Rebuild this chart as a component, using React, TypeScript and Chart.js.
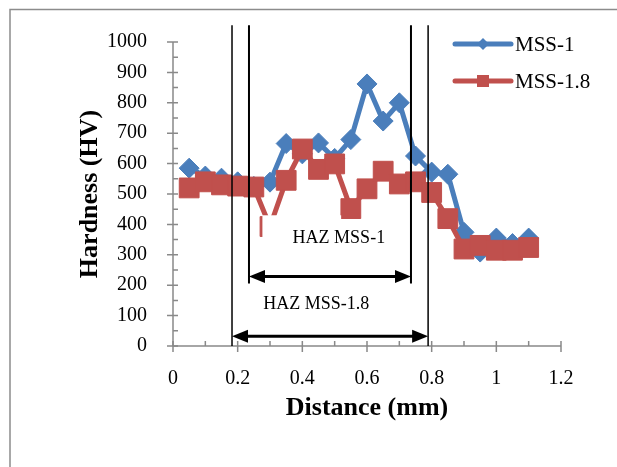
import React, { useEffect, useRef } from "react";
import { Chart, registerables } from "chart.js";

Chart.register(...registerables);

// ---- data ----
const distance = [0.05, 0.1, 0.15, 0.2, 0.25, 0.3, 0.35, 0.4, 0.45, 0.5, 0.55, 0.6, 0.65, 0.7, 0.75, 0.8, 0.85, 0.9, 0.95, 1.0, 1.05, 1.1];
const mss1 = [585, 559, 552, 540, 525, 539, 666, 632, 668, 617, 679, 862, 740, 800, 625, 572, 565, 374, 309, 355, 337, 355];
const mss18 = [520, 540, 530, 526, 523, 393, 545, 648, 581, 599, 452, 517, 575, 533, 540, 505, 419, 319, 331, 315, 315, 324];
const seriesNames = ["MSS-1", "MSS-1.8"];
const xTickValues = [0, 0.2, 0.4, 0.6, 0.8, 1, 1.2];
const yTickValues = [0, 100, 200, 300, 400, 500, 600, 700, 800, 900, 1000];
const xTitle = "Distance (mm)";
const yTitle = "Hardness (HV)";

// HAZ annotations (data units)
const hazInner = { from: 0.235, to: 0.736, label: "HAZ MSS-1", labelX: 0.513, labelY: 354, arrowY: 229, bottom: 206 };
const hazOuter = { from: 0.1825, to: 0.789, label: "HAZ MSS-1.8", labelX: 0.443, labelY: 137, arrowY: 32, bottom: 0 };
const hazTop = 1055;
const labelMask = { x0: 0.2765, x1: 0.52, y0: 430, y1: 275 };

const BLUE = "#4A7EBB";
const RED = "#C0504D";
const AXIS = "#898989";
const SERIF = "'Liberation Serif', 'Times New Roman', serif";

function drawArrow(ctx: CanvasRenderingContext2D, x1: number, x2: number, y: number) {
  const head = 16;
  const hw = 6.5;
  ctx.save();
  ctx.strokeStyle = "#000";
  ctx.fillStyle = "#000";
  ctx.lineWidth = 3;
  ctx.beginPath();
  ctx.moveTo(x1 + head - 2, y);
  ctx.lineTo(x2 - head + 2, y);
  ctx.stroke();
  ctx.beginPath();
  ctx.moveTo(x1, y);
  ctx.lineTo(x1 + head, y - hw);
  ctx.lineTo(x1 + head, y + hw);
  ctx.closePath();
  ctx.fill();
  ctx.beginPath();
  ctx.moveTo(x2, y);
  ctx.lineTo(x2 - head, y - hw);
  ctx.lineTo(x2 - head, y + hw);
  ctx.closePath();
  ctx.fill();
  ctx.restore();
}

const overlayPlugin = {
  id: "overlay",
  beforeDatasetsDraw(chart: any) {
    const ctx: CanvasRenderingContext2D = chart.ctx;
    const xs = chart.scales.x;
    const ys = chart.scales.y;
    const { left, right, top, bottom } = chart.chartArea;
    ctx.save();
    ctx.strokeStyle = AXIS;
    ctx.lineWidth = 1.5;
    // axis lines
    ctx.beginPath();
    ctx.moveTo(left, top);
    ctx.lineTo(left, bottom);
    ctx.moveTo(left, bottom);
    ctx.lineTo(right, bottom);
    ctx.stroke();
    // y ticks
    ctx.beginPath();
    for (let v = 0; v <= 1000; v += 50) {
      const y = ys.getPixelForValue(v);
      if (v % 100 === 0) {
        ctx.moveTo(left - 6, y);
        ctx.lineTo(left + 5, y);
      } else {
        ctx.moveTo(left, y);
        ctx.lineTo(left + 5, y);
      }
    }
    // x ticks
    for (let i = 0; i <= 12; i++) {
      const x = xs.getPixelForValue(i / 10);
      if (i % 2 === 0) {
        ctx.moveTo(x, bottom - 5);
        ctx.lineTo(x, bottom + 6);
      } else {
        ctx.moveTo(x, bottom - 5);
        ctx.lineTo(x, bottom);
      }
    }
    ctx.stroke();
    ctx.restore();
  },
  afterDatasetsDraw(chart: any) {
    const ctx: CanvasRenderingContext2D = chart.ctx;
    const xs = chart.scales.x;
    const ys = chart.scales.y;
    ctx.save();
    // white label box
    const mx0 = xs.getPixelForValue(labelMask.x0);
    const mx1 = xs.getPixelForValue(labelMask.x1);
    const my0 = ys.getPixelForValue(labelMask.y0);
    const my1 = ys.getPixelForValue(labelMask.y1);
    ctx.fillStyle = "#fff";
    ctx.fillRect(mx0, my0, mx1 - mx0, my1 - my0);

    const yTop = ys.getPixelForValue(hazTop);
    // vertical lines
    ctx.strokeStyle = "#000";
    for (const h of [hazOuter, hazInner]) {
      ctx.lineWidth = h === hazOuter ? 1.5 : 2;
      const yb = ys.getPixelForValue(h.bottom);
      for (const xv of [h.from, h.to]) {
        const x = xs.getPixelForValue(xv);
        ctx.beginPath();
        ctx.moveTo(x, yTop);
        ctx.lineTo(x, yb);
        ctx.stroke();
      }
      drawArrow(ctx, xs.getPixelForValue(h.from), xs.getPixelForValue(h.to), ys.getPixelForValue(h.arrowY));
      ctx.fillStyle = "#000";
      ctx.font = `18px ${SERIF}`;
      ctx.textAlign = "center";
      ctx.textBaseline = "middle";
      ctx.fillText(h.label, xs.getPixelForValue(h.labelX), ys.getPixelForValue(h.labelY));
    }
    ctx.restore();
  },
  afterDraw(chart: any) {
    const ctx: CanvasRenderingContext2D = chart.ctx;
    const { left, right } = chart.chartArea;
    ctx.save();
    // frame
    ctx.strokeStyle = "#8c8c8c";
    ctx.lineWidth = 1.5;
    ctx.beginPath();
    ctx.moveTo(10, 470);
    ctx.lineTo(10, 9.5);
    ctx.lineTo(620, 9.5);
    ctx.stroke();

    // axis titles
    ctx.fillStyle = "#000";
    ctx.font = `bold 26px ${SERIF}`;
    ctx.textAlign = "center";
    ctx.textBaseline = "alphabetic";
    ctx.fillText(xTitle, (left + right) / 2, 415);
    ctx.save();
    ctx.translate(90.5, 194);
    ctx.rotate(-Math.PI / 2);
    ctx.textBaseline = "middle";
    ctx.fillText(yTitle, 0, 0);
    ctx.restore();

    // legend
    const lx0 = 455, lx1 = 511, lmid = 483;
    const rows = [
      { y: 44, color: BLUE, name: seriesNames[0], kind: "diamond" },
      { y: 81, color: RED, name: seriesNames[1], kind: "square" },
    ];
    for (const r of rows) {
      ctx.strokeStyle = r.color;
      ctx.fillStyle = r.color;
      ctx.lineWidth = 5;
      ctx.lineCap = "round";
      ctx.beginPath();
      ctx.moveTo(lx0, r.y);
      ctx.lineTo(lx1, r.y);
      ctx.stroke();
      ctx.beginPath();
      if (r.kind === "diamond") {
        const s = 6;
        ctx.moveTo(lmid - s, r.y);
        ctx.lineTo(lmid, r.y - s);
        ctx.lineTo(lmid + s, r.y);
        ctx.lineTo(lmid, r.y + s);
        ctx.closePath();
        ctx.fill();
      } else {
        ctx.fillRect(lmid - 6, r.y - 6, 12, 12);
      }
      ctx.fillStyle = "#000";
      ctx.font = `21px ${SERIF}`;
      ctx.textAlign = "left";
      ctx.textBaseline = "middle";
      ctx.fillText(r.name, 515, r.y + 1);
    }
    ctx.restore();
  },
};

export default function App() {
  const canvasRef = useRef<HTMLCanvasElement | null>(null);

  useEffect(() => {
    const canvas = canvasRef.current;
    if (!canvas) return;
    const chart = new Chart(canvas, {
      type: "line",
      data: {
        datasets: [
          {
            label: seriesNames[1],
            data: distance.map((d, i) => ({ x: d, y: mss18[i] })),
            borderColor: RED,
            backgroundColor: RED,
            borderWidth: 5,
            pointStyle: "rect",
            pointRadius: 14,
            pointBorderWidth: 1,
            pointBorderColor: RED,
            pointBackgroundColor: RED,
            order: 0,
          },
          {
            label: seriesNames[0],
            data: distance.map((d, i) => ({ x: d, y: mss1[i] })),
            borderColor: BLUE,
            backgroundColor: BLUE,
            borderWidth: 5,
            pointStyle: "rectRot",
            pointRadius: 10,
            pointBorderWidth: 1,
            pointBorderColor: BLUE,
            pointBackgroundColor: BLUE,
            order: 1,
          },
        ],
      },
      options: {
        animation: false,
        responsive: false,
        devicePixelRatio: 1,
        events: [],
        layout: { padding: { left: 0, right: 56, top: 42, bottom: 0 } },
        elements: {
          line: { tension: 0, borderJoinStyle: "round", borderCapStyle: "round" },
        },
        plugins: {
          legend: { display: false },
          tooltip: { enabled: false },
          title: { display: false },
        },
        scales: {
          x: {
            type: "linear",
            min: 0,
            max: 1.2,
            afterBuildTicks: (scale: any) => {
              scale.ticks = xTickValues.map((v) => ({ value: v }));
            },
            afterFit: (scale: any) => {
              scale.height = 121;
            },
            grid: { display: false },
            border: { display: false },
            ticks: {
              padding: 13,
              color: "#000",
              font: { family: SERIF, size: 20 },
              maxRotation: 0,
              autoSkip: false,
              callback: (v: any) => String(parseFloat(Number(v).toFixed(1))),
            },
          },
          y: {
            type: "linear",
            min: 0,
            max: 1000,
            afterBuildTicks: (scale: any) => {
              scale.ticks = yTickValues.map((v) => ({ value: v }));
            },
            afterFit: (scale: any) => {
              scale.width = 173;
            },
            grid: { display: false },
            border: { display: false },
            ticks: {
              padding: 18,
              color: "#000",
              font: { family: SERIF, size: 20 },
              autoSkip: false,
              callback: (v: any) => String(v),
            },
          },
        },
      },
      plugins: [overlayPlugin],
    } as any);
    return () => chart.destroy();
  }, []);

  return (
    <div style={{ position: "absolute", left: 0, top: 0, width: 617, height: 467, background: "#fff" }}>
      <canvas ref={canvasRef} width={617} height={467} style={{ display: "block", width: 617, height: 467 }} />
    </div>
  );
}
